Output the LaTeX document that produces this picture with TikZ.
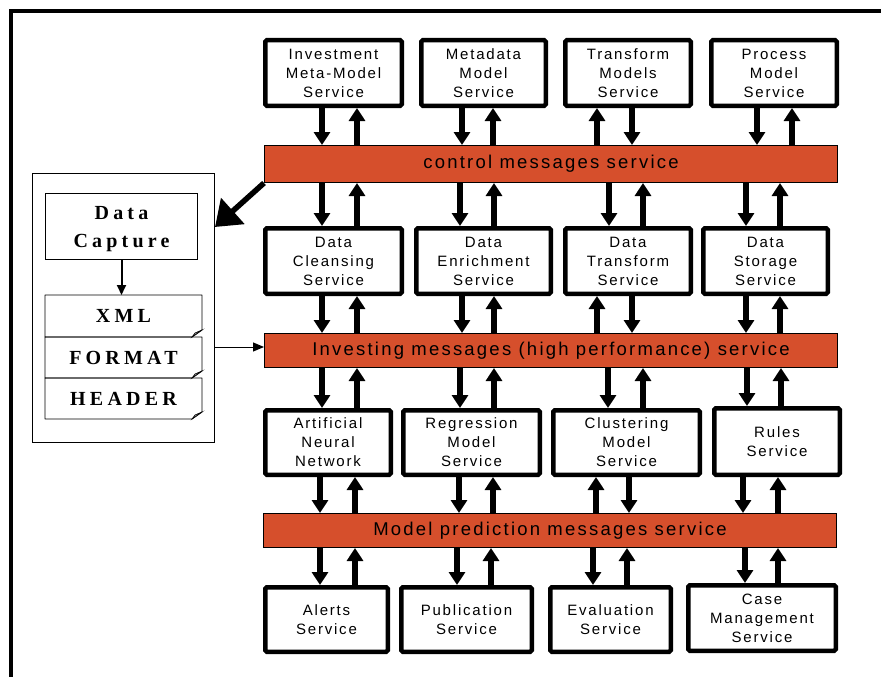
\documentclass[tikz,border=0pt]{standalone}
\usepackage{fontspec}
\setmainfont{Liberation Sans}
\newfontfamily\svcfont[LetterSpace=12]{Liberation Sans}
\newfontfamily\capfont[LetterSpace=21]{Liberation Serif}
\usetikzlibrary{arrows.meta,calc}
\definecolor{busred}{RGB}{214,79,44}

% service box given by its outer extents x1,y1,x2,y2
\newcommand\svcbox[6]{\node[svc, minimum width={#4-#2-4.5}, minimum height={#5-#3-4.5}] (#1) at ({(#2+#4)/2},{(#3+#5)/2}) {#6};}
% message bus given by its outer extents
\newcommand\busbox[6]{\node[bus, minimum width={#4-#2-1.2}, minimum height={#5-#3-1.2}] (#1) at ({(#2+#4)/2},{(#3+#5)/2}) {#6};}
% vertical connector at abscissa #1 between two anchors
\newcommand\conn[3]{\draw[flow] (#1,0 |- #2) -- (#1,0 |- #3);}
% page-like box with a folded lower right corner
\newcommand\docedge[1]{%
  \draw[line width=0.9pt, line join=round] (#1.north west) -- (#1.north east) -- ([yshift=7pt]#1.south east)
    -- ([xshift=-10pt]#1.south east) -- (#1.south west) -- cycle;
  \filldraw[fill=gray!60, line width=0.6pt] ([xshift=-10pt]#1.south east) -- ([xshift=-7pt,yshift=4pt]#1.south east)
    -- ([yshift=7pt]#1.south east) -- cycle;}

\begin{document}
\begin{tikzpicture}[x=1pt,y=-1pt,
  svc/.style={draw, line width=4.5pt, rounded corners=1.5pt, fill=white, align=center, inner sep=0pt,
    font=\svcfont\fontsize{15}{19}\selectfont},
  bus/.style={draw, line width=1.2pt, fill=busred, inner sep=0pt, font=\svcfont\fontsize{18.5}{21}\selectfont},
  flow/.style={line width=6pt, -{Triangle[width=16pt,length=13pt]}},
  panel/.style={draw, line width=1.3pt, inner sep=0pt},
  capbox/.style={draw, line width=1pt, inner sep=0pt},
  captext/.style={inner sep=0pt, align=center, font=\capfont\bfseries\fontsize{20}{28}\selectfont},
  docbox/.style={inner sep=0pt, outer sep=0pt, font=\capfont\bfseries\fontsize{20}{22}\selectfont},
]
\clip (0,0) rectangle (881,677);
\fill[white] (0,0) rectangle (881,677);

% outer frame
\draw[line width=4pt] (11,690) -- (11,11) -- (890,11);

% top row of model services
\svcbox{inv}{263}{38}{404}{108}{Investment\\Meta-Model\\Service}
\svcbox{meta}{419}{38}{548}{108}{Metadata\\Model\\Service}
\svcbox{tmod}{563}{38}{693}{108}{Transform\\Models\\Service}
\svcbox{proc}{709}{38}{839}{108}{Process\\Model\\Service}

\busbox{bus1}{264}{145}{838}{183}{control messages service}

% data services
\svcbox{clean}{263}{226}{404}{296}{Data\\Cleansing\\Service}
\svcbox{enr}{414}{226}{553}{296}{Data\\Enrichment\\Service}
\svcbox{dtr}{563}{226}{693}{296}{Data\\Transform\\Service}
\svcbox{sto}{701}{226}{830}{296}{Data\\Storage\\Service}

\busbox{bus2}{264}{333}{838}{368}{Investing messages (high performance) service}

% modelling services
\svcbox{ann}{263}{408}{393}{477}{Artificial\\Neural\\Network}
\svcbox{reg}{401}{408}{542}{477}{Regression\\Model\\Service}
\svcbox{clu}{551}{408}{702}{477}{Clustering\\Model\\Service}
\svcbox{rul}{712}{406}{842}{477}{Rules\\Service}

\busbox{bus3}{263}{513}{837}{548}{Model prediction messages service}

% output services
\svcbox{alr}{263}{585}{390}{654}{Alerts\\Service}
\svcbox{pub}{399}{585}{534}{654}{Publication\\Service}
\svcbox{eva}{548}{585}{673}{654}{Evaluation\\Service}
\svcbox{cas}{686}{583}{838}{653}{Case\\Management\\Service}

% connectors: top row <-> control bus
\conn{322}{inv.south}{bus1.north} \conn{357}{bus1.north}{inv.south}
\conn{462}{meta.south}{bus1.north} \conn{493}{bus1.north}{meta.south}
\conn{597}{bus1.north}{tmod.south} \conn{632}{tmod.south}{bus1.north}
\conn{757}{proc.south}{bus1.north} \conn{792}{bus1.north}{proc.south}
% control bus <-> data services
\conn{322}{bus1.south}{clean.north} \conn{357}{clean.north}{bus1.south}
\conn{460}{bus1.south}{enr.north} \conn{494}{enr.north}{bus1.south}
\conn{609}{bus1.south}{dtr.north} \conn{643}{dtr.north}{bus1.south}
\conn{746}{bus1.south}{sto.north} \conn{780}{sto.north}{bus1.south}
% data services <-> investing bus
\conn{322}{clean.south}{bus2.north} \conn{357}{bus2.north}{clean.south}
\conn{462}{enr.south}{bus2.north} \conn{494}{bus2.north}{enr.south}
\conn{597}{bus2.north}{dtr.south} \conn{632}{dtr.south}{bus2.north}
\conn{746}{sto.south}{bus2.north} \conn{780}{bus2.north}{sto.south}
% investing bus <-> modelling services
\conn{322}{bus2.south}{ann.north} \conn{357}{ann.north}{bus2.south}
\conn{460}{bus2.south}{reg.north} \conn{494}{reg.north}{bus2.south}
\conn{608}{bus2.south}{clu.north} \conn{643}{clu.north}{bus2.south}
\conn{747}{bus2.south}{rul.north} \conn{781}{rul.north}{bus2.south}
% modelling services <-> prediction bus
\conn{320}{ann.south}{bus3.north} \conn{355}{bus3.north}{ann.south}
\conn{459}{reg.south}{bus3.north} \conn{493}{bus3.north}{reg.south}
\conn{596}{bus3.north}{clu.south} \conn{629}{clu.south}{bus3.north}
\conn{743}{rul.south}{bus3.north} \conn{778}{bus3.north}{rul.south}
% prediction bus <-> output services
\conn{320}{bus3.south}{alr.north} \conn{355}{alr.north}{bus3.south}
\conn{457}{bus3.south}{pub.north} \conn{491}{pub.north}{bus3.south}
\conn{593}{bus3.south}{eva.north} \conn{627}{eva.north}{bus3.south}
\conn{745}{bus3.south}{cas.north} \conn{778}{cas.north}{bus3.south}

% data capture panel
\node[panel, minimum width=181.7, minimum height=268.7] (panel) at (123.5,308) {};
\node[capbox, minimum width=152, minimum height=66] (cap) at (121.5,226) {};
\node[captext] (captxt) at (121.5,229.5) {Data\\Capture};
\node[docbox, minimum width=157, minimum height=42] (xml) at (123.5,316) {XML};
\node[docbox, minimum width=157, minimum height=41] (fmt) at (123.5,357.5) {FORMAT};
\node[docbox, minimum width=157, minimum height=41] (hdr) at (123.5,398.5) {HEADER};
\docedge{xml}
\docedge{fmt}
\docedge{hdr}
\draw[line width=2pt, -{Triangle[width=9pt,length=10pt]}] (cap.south) -- (cap.south |- xml.north);

% links between the panel and the buses
\draw[line width=5.5pt, -{Triangle[width=34pt,length=24pt]}] (bus1.south west) -- (panel.east |- 0,227);
\draw[line width=1pt, -{Triangle[width=9pt,length=11pt]}] (panel.east |- 0,347) -- (bus2.west |- 0,347);
\end{tikzpicture}
\end{document}
